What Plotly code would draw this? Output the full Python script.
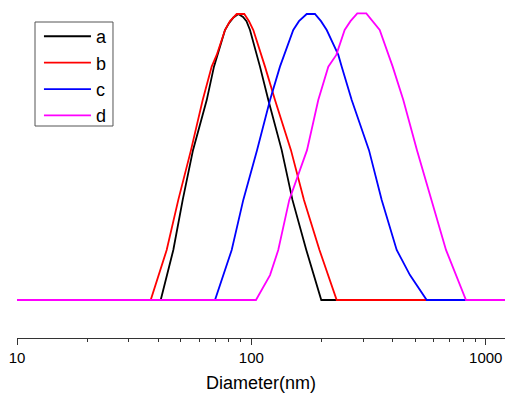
import plotly.graph_objects as go

# Diameter (nm) and normalized intensity
d_a = [10, 41.03, 46.44, 50.93, 56.35, 64.48, 69.24, 77.16, 80.24, 83.86, 87.93, 92.10, 95.30, 98.63,
       108.8, 118.1, 134.7, 149.7, 171.5, 198.7, 1210]
v_a = [0, 0, 17.5, 35.0, 52.4, 69.9, 81.6, 94.4, 96.8, 98.8, 100, 99.0, 97.5, 94.4,
       81.6, 69.9, 52.4, 35.0, 17.5, 0, 0]

d_b = [10, 37.19, 43.51, 48.77, 55.24, 61.98, 67.70, 71.12, 77.16, 81.04, 86.55, 93.27, 97.68,
       101.9, 114.3, 126.1, 147.5, 167.6, 195.2, 231.2, 1210]
v_b = [0, 0, 17.5, 35.0, 52.4, 69.9, 81.6, 85.7, 94.4, 97.5, 100, 100, 97.5,
       94.4, 81.6, 69.9, 52.4, 35.0, 17.5, 0, 0]

d_c = [10, 69.93, 82.41, 92.35, 105.7, 120.1, 132.4, 137.8, 150.9, 159.6, 172.2, 186.7, 198.1,
       209.6, 234.9, 242.9, 267.9, 317.5, 359.7, 416.8, 474.9, 559.6, 1210]
v_c = [0, 0, 17.5, 35.0, 52.4, 69.9, 81.6, 85.7, 94.4, 97.5, 100, 100, 97.5,
       94.4, 85.7, 81.6, 69.9, 52.4, 35.0, 17.5, 8.7, 0, 0]

d_d = [10, 104.6, 120.1, 130.2, 145.1, 172.7, 192.9, 212.9, 230.3, 250.0, 264.7, 283.0, 309.2,
       330.2, 352.7, 400.7, 444.8, 508.7, 587.8, 676.5, 823.3, 1210]
v_d = [0, 0, 8.7, 17.5, 35.0, 52.4, 69.9, 81.6, 85.7, 94.4, 97.5, 100.2, 100.2,
       97.5, 94.4, 81.6, 69.9, 52.4, 35.0, 17.5, 0, 0]

names = ["a", "b", "c", "d"]
colors = ["#000000", "#ff0000", "#0000ff", "#ff00ff"]

major_ticks = [10, 100, 1000]
minor_ticks = [20, 30, 40, 50, 60, 70, 80, 90, 200, 300, 400, 500, 600, 700, 800, 900]

fig = go.Figure()
for xs, ys, n, c in zip([d_a, d_b, d_c, d_d], [v_a, v_b, v_c, v_d], names, colors):
    fig.add_trace(go.Scatter(x=xs, y=ys, mode="lines", name=n,
                             line=dict(color=c, width=1.8)))

# legend frame drawn as a shape so it hugs the entries like the reference
fig.add_shape(type="rect", xref="paper", yref="paper",
              x0=0.0369, x1=0.1967, y0=0.6347, y1=0.9461,
              line=dict(color="#555555", width=1), fillcolor="rgba(0,0,0,0)",
              layer="above")

fig.update_layout(
    width=505, height=394,
    margin=dict(l=17, r=0, t=4, b=56, autoexpand=False),
    paper_bgcolor="white", plot_bgcolor="white",
    font=dict(family="Liberation Sans, Arial, sans-serif", color="#000"),
    showlegend=True,
    legend=dict(
        x=0.045, y=0.958, xanchor="left", yanchor="top",
        borderwidth=0, bgcolor="rgba(0,0,0,0)",
        font=dict(size=18, color="#000"),
        tracegroupgap=0, itemwidth=47,
    ),
    xaxis=dict(
        type="log", range=[1, 3.082], automargin=False,
        showgrid=False, zeroline=False,
        showline=True, linecolor="#333333", linewidth=1,
        ticks="outside", ticklen=6, tickcolor="#333333",
        tickvals=major_ticks, ticktext=[str(t) for t in major_ticks],
        tickfont=dict(size=15),
        minor=dict(ticks="outside", ticklen=3, tickcolor="#333333",
                   tickvals=minor_ticks, showgrid=False),
        title=dict(text="Diameter(nm)", font=dict(size=18), standoff=11),
    ),
    yaxis=dict(
        range=[-13.29, 103.5], visible=False, showgrid=False, zeroline=False,
        automargin=False,
    ),
)

fig.write_html(
    "out.html",
    config={"displayModeBar": False},
    post_script="document.body.style.margin='0';document.body.style.overflow='hidden';",
)
